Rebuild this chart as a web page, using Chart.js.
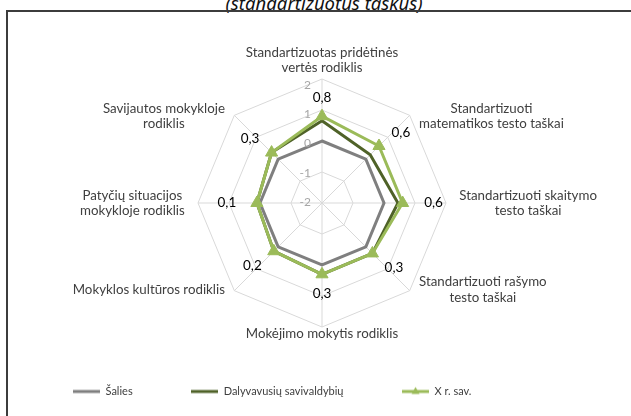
<!DOCTYPE html>
<html>
<head>
<meta charset="utf-8">
<script src="https://cdn.jsdelivr.net/npm/chart.js@4/dist/chart.umd.min.js"></script>
<style>
  body { margin: 0; background: #fff; width: 631px; height: 416px; overflow: hidden; position: relative; }
  #title { position: absolute; left: 0; width: 648px; top: -10px; height: 19px; line-height: 19px; text-align: center;
           font: italic 18.5px "Noto Sans", sans-serif; color: #111; white-space: nowrap; }
  #frame { position: absolute; left: 6px; top: 10px; width: 700px; height: 500px;
           border-top: 2px solid #3c3c3c; border-left: 2px solid #3c3c3c; }
  #chart { position: absolute; left: 0; top: 0; }
</style>
</head>
<body>
<div id="title">(standartizuotus taškus)</div>
<div id="frame"></div>
<canvas id="chart" width="631" height="416"></canvas>
<script>
// axis categories, clockwise from the top
const categories = [
  ["Standartizuotas pridėtinės", "vertės rodiklis"],
  ["Standartizuoti", "matematikos testo taškai"],
  ["Standartizuoti skaitymo", "testo taškai"],
  ["Standartizuoti rašymo", "testo taškai"],
  ["Mokėjimo mokytis rodiklis"],
  ["Mokyklos kultūros rodiklis"],
  ["Patyčių situacijos", "mokykloje rodiklis"],
  ["Savijautos mokykloje", "rodiklis"],
];
const saliesValues = [0, 0, 0, 0, 0, 0, 0, 0];
const dalyvavusiuValues = [0.65, 0.2, 0.45, 0.3, 0.3, 0.2, 0.1, 0.3];
const xRSavValues = [0.8, 0.6, 0.6, 0.3, 0.3, 0.2, 0.1, 0.3];
const tickValues = [-2, -1, 0, 1, 2];

const GRAY = "#7f7f7f";
const DARK_GREEN = "#4f6228";
const LIGHT_GREEN = "#9bbb59";
const TEXT = "#404040";
const FONT = "Lato, sans-serif";
// the original picture is a little wider than tall; texts follow that shape
const KX = 1.056, KY = 0.944;

function stretched(s, p) {
  return { x: s.xCenter + (p.x - s.xCenter) * KX, y: s.yCenter + (p.y - s.yCenter) * KY };
}

// legend sample: short line, optionally with a triangle marker
function legendSample(color, withMarker) {
  const c = document.createElement("canvas");
  c.width = 27; c.height = 12;
  const g = c.getContext("2d");
  g.strokeStyle = color; g.lineWidth = 3;
  g.beginPath(); g.moveTo(0, 6); g.lineTo(27, 6); g.stroke();
  if (withMarker) {
    g.fillStyle = color;
    g.beginPath(); g.moveTo(13.5, 1.5); g.lineTo(17.5, 8.5); g.lineTo(9.5, 8.5); g.closePath(); g.fill();
  }
  return c;
}
const legendImages = [legendSample(GRAY, false), legendSample(DARK_GREEN, false), legendSample(LIGHT_GREEN, true)];

// axis labels, lines centred inside their box
const axisLabelPlugin = {
  id: "axisLabels",
  afterDraw(chart) {
    const s = chart.scales.r;
    const ctx = chart.ctx;
    const lineH = 15.5;
    ctx.save();
    ctx.font = "13.3px " + FONT;
    ctx.fillStyle = TEXT;
    ctx.textAlign = "center";
    ctx.textBaseline = "middle";
    categories.forEach((lines, i) => {
      const angle = (i * Math.PI * 2) / categories.length;
      const sin = Math.sin(angle), cos = Math.cos(angle);
      const extra = i === 0 ? 11 : 6;
      const p = stretched(s, s.getPointPosition(i, s.drawingArea + extra));
      const w = Math.max(...lines.map((t) => ctx.measureText(t).width));
      const h = lines.length * lineH;
      let cx = p.x, cy = p.y;
      if (sin > 0.01) cx = p.x + w / 2;
      else if (sin < -0.01) cx = p.x - w / 2;
      if (Math.abs(sin) < 0.01) cy = cos > 0 ? p.y - h / 2 : p.y + h / 2;
      lines.forEach((t, k) => ctx.fillText(t, cx, cy - h / 2 + lineH / 2 + k * lineH));
    });
    ctx.restore();
  },
};

// tick labels just left of the vertical axis
const tickLabelPlugin = {
  id: "tickLabels",
  afterDatasetsDraw(chart) {
    const s = chart.scales.r;
    const ctx = chart.ctx;
    ctx.save();
    ctx.font = "12px " + FONT;
    ctx.fillStyle = "#a6a6a6";
    ctx.textAlign = "right";
    ctx.textBaseline = "middle";
    tickValues.forEach((v) => {
      const p = stretched(s, s.getPointPositionForValue(0, v));
      ctx.fillText(String(v), p.x - 11, p.y - 1);
    });
    ctx.restore();
  },
};

// value labels for "X r. sav." placed outward from each point
const valueLabelPlugin = {
  id: "valueLabels",
  afterDatasetsDraw(chart) {
    const s = chart.scales.r;
    const ctx = chart.ctx;
    ctx.save();
    ctx.font = "13.5px " + FONT;
    ctx.fillStyle = "#000";
    ctx.textAlign = "center";
    ctx.textBaseline = "middle";
    xRSavValues.forEach((v, i) => {
      const p = stretched(s, s.getPointPosition(i, s.getDistanceFromCenterForValue(v) + 25));
      ctx.fillText(v.toFixed(1).replace(".", ","), p.x, p.y);
    });
    ctx.restore();
  },
};

new Chart(document.getElementById("chart"), {
  type: "radar",
  data: {
    labels: categories,
    datasets: [
      { label: "Šalies", data: saliesValues, borderColor: GRAY, borderWidth: 3, pointRadius: 0, fill: false, order: 2 },
      { label: "Dalyvavusių savivaldybių", data: dalyvavusiuValues, borderColor: DARK_GREEN, borderWidth: 3, pointRadius: 0, fill: false, order: 1 },
      { label: "X r. sav.", data: xRSavValues, borderColor: LIGHT_GREEN, backgroundColor: LIGHT_GREEN, borderWidth: 3,
        pointStyle: "triangle", pointRadius: 7, pointBorderWidth: 1, pointBackgroundColor: LIGHT_GREEN, fill: false, order: 0 },
    ],
  },
  options: {
    responsive: false,
    animation: false,
    elements: { line: { tension: 0 } },
    layout: { padding: { top: 79, left: 14.5, right: -4.5, bottom: 9 } },
    plugins: {
      tooltip: { enabled: false },
      legend: {
        position: "bottom",
        align: "start",
        labels: {
          usePointStyle: true,
          pointStyleWidth: 27,
          padding: 58.5,
          color: TEXT,
          font: { family: FONT, size: 11 },
          sort: (a, b) => a.datasetIndex - b.datasetIndex,
          generateLabels(chart) {
            const items = Chart.defaults.plugins.legend.labels.generateLabels(chart);
            items.forEach((it) => { it.pointStyle = legendImages[it.datasetIndex]; });
            return items;
          },
        },
      },
    },
    scales: {
      r: {
        min: -2,
        max: 2,
        ticks: { display: false, stepSize: 1 },
        pointLabels: { display: false },
        grid: { color: "#d9d9d9", lineWidth: 1 },
        angleLines: { color: "#d9d9d9", lineWidth: 1 },
      },
    },
  },
  plugins: [axisLabelPlugin, tickLabelPlugin, valueLabelPlugin],
});
</script>
</body>
</html>
